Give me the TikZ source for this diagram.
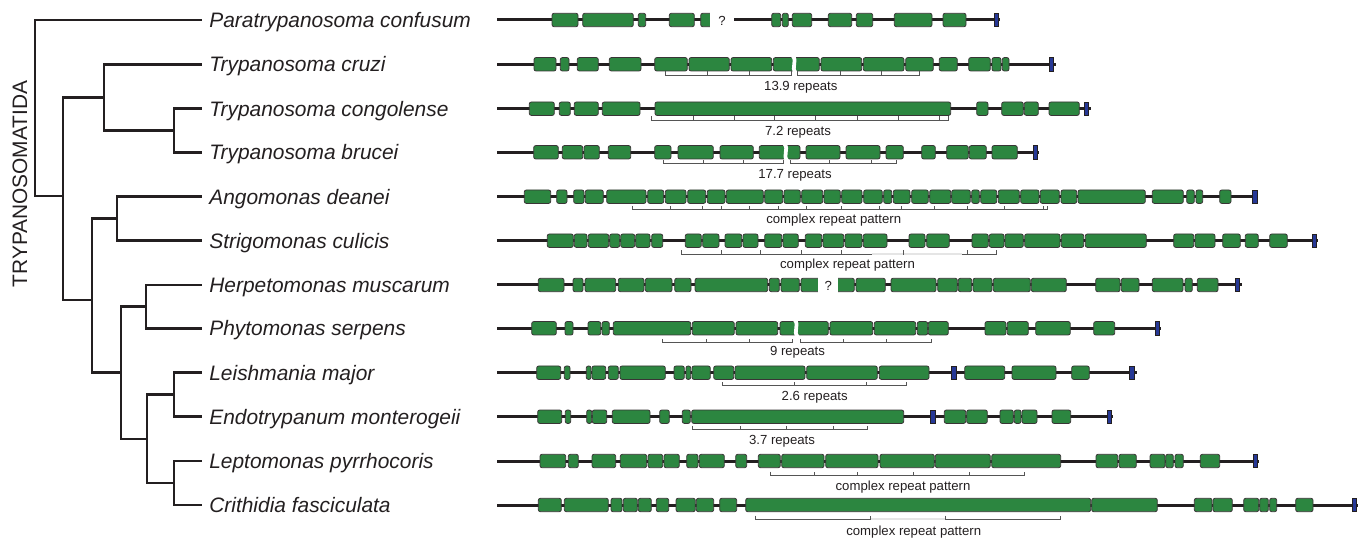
\documentclass[tikz,border=0pt]{standalone}
\usepackage{fontspec}
\setmainfont{Liberation Sans}
\usepackage{xcolor}
\usepackage{tikz}
\usetikzlibrary{positioning}

\definecolor{inkgray}{RGB}{35,31,32}
\definecolor{exongreen}{RGB}{44,134,64}
\definecolor{flagblue}{RGB}{38,56,150}
\definecolor{bargray}{RGB}{85,85,85}

\tikzset{
  branch/.style={draw=inkgray,line width=0.5mm},
  species/.style={inner sep=0pt,text height=11.1pt,text depth=2.5pt,font=\fontsize{11.9}{14}\selectfont\itshape,text=inkgray},
  clade/.style={inner sep=0pt,font=\fontsize{11.9}{14}\selectfont,text=inkgray,rotate=90},
  geneline/.style={draw=inkgray,line width=0.6mm},
  exon/.style={fill=exongreen,draw=inkgray!90,line width=0.45pt,rounded corners=0.4mm},
  flag/.style={fill=flagblue,draw=inkgray,line width=0.4pt},
  repbar/.style={draw=bargray,line width=0.5pt},
  fadebar/.style={draw=gray!20,line width=0.7pt},
  replabel/.style={inner sep=0pt,anchor=base,font=\fontsize{7.5}{9}\selectfont,text=inkgray},
  qmark/.style={inner sep=0pt,font=\fontsize{7.5}{9}\selectfont,text=inkgray},
  splicecut/.style={draw=white,line width=0.75mm}
}

% gene map helpers: row y, then data
\newcommand{\exons}[2]{\foreach \xa/\xb in {#2} {\draw[exon] (\xa,#1-6.7) rectangle (\xb,#1+6.7);}}
\newcommand{\flags}[2]{\foreach \xa in {#2} {\draw[flag] (\xa,#1-6.7) rectangle ++(4.5,13.4);}}
\newcommand{\splice}[2]{\draw[splicecut] (#2-1.5,#1-8.5) .. controls (#2+3.5,#1-3) and (#2-3.5,#1+3) .. (#2+1.5,#1+8.5);}
\newcommand{\repbar}[4]{\draw[repbar] (#2,#1-3.5) |- (#3,#1) -- (#3,#1-3.5);
  \foreach \xt in {#4} {\draw[repbar] (\xt,#1) -- (\xt,#1-3.5);}}

\begin{document}
\begin{tikzpicture}[x=0.2mm,y=-0.2mm]
    \useasboundingbox (0,0) rectangle (1370,538);

    % tree
    \foreach \y [count=\i from 0] in {20,64.3,108.7,152.3,196.7,240.7,285,328.3,372.7,416.7,461,505}
        \coordinate (t\i) at (202,\y);
    \coordinate (nR) at (35,108);
    \coordinate (nA) at (63,196);
    \coordinate (nB) at (104,97.4);
    \coordinate (nC) at (174,130.5);
    \coordinate (nD) at (92,300);
    \coordinate (nE) at (117,218.7);
    \coordinate (nF) at (121,372.75);
    \coordinate (nG) at (146,306.65);
    \coordinate (nH) at (147,438.85);
    \coordinate (nI) at (174,394.7);
    \coordinate (nJ) at (174,483);
    \foreach \p/\c in {nR/t0,nR/nA,nA/nB,nA/nD,nB/t1,nB/nC,nC/t2,nC/t3,nD/nE,nD/nF,nE/t4,nE/t5,
                       nF/nG,nF/nH,nG/t6,nG/t7,nH/nI,nH/nJ,nI/t8,nI/t9,nJ/t10,nJ/t11}
        \draw[branch] (\p) |- (\c);
    \foreach \i/\name in {0/Paratrypanosoma confusum,1/Trypanosoma cruzi,2/Trypanosoma congolense,
                          3/Trypanosoma brucei,4/Angomonas deanei,5/Strigomonas culicis,
                          6/Herpetomonas muscarum,7/Phytomonas serpens,8/Leishmania major,
                          9/Endotrypanum monterogeii,10/Leptomonas pyrrhocoris,11/Crithidia fasciculata}
        \node[species,right=1.4mm of t\i] (sp\i) {\name};
    \node[clade] (clade) at (20,184) {TRYPANOSOMATIDA};

    % Paratrypanosoma
    \draw[geneline] (497,20) -- (1000,20);
    \exons{20}{552/578,582.7/633.3,638.3/645.7,669.3/694.3,700.7/716,771.7/780.7,782.3/788.3,792.3/811.7,828.3/851.7,856.3/872.7,894.3/932,943/966}
    \flags{20}{994}
    \fill[white] (710,11.5) rectangle (734,28.5);
    \node[qmark] (q0) at (722,20.5) {?};

    % T. cruzi
    \draw[geneline] (497,64.3) -- (1055.7,64.3);
    \exons{64.3}{534/556,560.3/569,577.3/598.3,609.3/641,654.7/687.3,689/729.3,731/771.7,773.3/819.3,821/861.7,863.3/904,905.7/933.3,939.3/957.3,968.7/990.3,992/1001,1002.3/1009}
    \flags{64.3}{1049}
    \splice{64.3}{794.2}
    \repbar{75}{665.3}{791.7}{707.3,749.3}
    \repbar{75}{797.7}{919}{840,881.7}
    \node[replabel] (r1) at (800.8,91) {13.9 repeats};

    % T. congolense
    \draw[geneline] (497,108.7) -- (1091.3,108.7);
    \exons{108.7}{529.3/554.3,559.3/570.3,574.3/598.3,602.3/640,655/950.7,976.7/988,1001.7/1023.3,1024.3/1038.3,1049/1079.3}
    \flags{108.7}{1084.3}
    \repbar{120}{651.7}{948.3}{693.3,734,774.7,815.3,857.3,898.3,939.7}
    \node[replabel] (r2) at (798,135.7) {7.2 repeats};

    % T. brucei
    \draw[geneline] (497,152.3) -- (1039.3,152.3);
    \exons{152.3}{533.7/558.3,562.3/582.7,584/599.3,608.3/630.7,654.7/671,678/713.3,720/753.3,759.3/800,806/840,846/880,886/903.3,921.7/935.3,946.7/968.3,969.3/986.3,992/1017.3}
    \flags{152.3}{1033}
    \splice{152.3}{785.8}
    \repbar{163.3}{663.3}{783.3}{703.3,743.3}
    \repbar{163.3}{790}{896}{829.3,871}
    \node[replabel] (r3) at (795,179) {17.7 repeats};

    % A. deanei
    \draw[geneline] (497,196.7) -- (1258,196.7);
    \exons{196.7}{524.3/550.7,556.7/567,573.7/584,585.3/603.3,606.7/646,647.7/663.7,665.3/686,687.7/705.7,707.3/725,726.3/763.3,764.7/782.7,784/800.3,801.7/822.7,824/840.3,841.7/862,863.7/882.3,883.7/891.7,893.3/910,911.7/928.3,929.7/950.7,951.7/970.3,971.7/979.3,980.7/996.7,998.3/1019.3,1020.7/1039,1040.3/1059.3,1061/1076.7,1078/1145.3,1152.3/1183.3,1186.7/1194.3,1196/1202.7,1219.7/1231}
    \flags{196.7}{1252.7}
    \repbar{209.3}{632.7}{1047}{670.7,702.3,721.7,749.3,778.3,806,841,879,901,934.3,967.3,1004,1043.3}
    \node[replabel] (r4) at (833.7,223.5) {complex repeat pattern};

    % S. culicis
    \draw[geneline] (497,240.7) -- (1318.3,240.7);
    \exons{240.7}{547.3/573.3,574.3/587,588.3/608.7,609.7/619.7,620.7/634.7,635.7/650,651.7/662.7,685.3/701.3,702.7/719,725/741.7,743/758,764.7/781.7,783/798.3,805.3/821.7,823/843.7,845/862,863.3/887,909/925,926.7/949.3,972/988.3,989.3/1004,1005/1023.3,1024.7/1060,1061.3/1083.7,1085.3/1146.3,1173.7/1193.7,1195/1215,1222.7/1240.3,1245.3/1258.3,1269.7/1287.3}
    \flags{240.7}{1312.3}
    \repbar{254}{681}{996}{721,760.7,801,841.7,903.7,967.3}
    \draw[fadebar] (871.7,254) -- (903,254) (904.4,254) -- (961.7,254);
    \node[replabel] (r5) at (847.5,269) {complex repeat pattern};

    % H. muscarum
    \draw[geneline] (497,285) -- (1242.3,285);
    \exons{285}{538.3/564,573/583,585/615.7,618.3/644,645.3/672,674.7/691,695/767.7,769.3/779.3,781/799.3,801/822,834/854.3,856/885.3,891/936,937.7/957.3,958.3/971.7,973/992,993.3/1030.3,1031.3/1066.3,1095.7/1120,1121.3/1139,1152.3/1183,1185/1192.3,1197.3/1218}
    \flags{285}{1235.3}
    \fill[white] (817.7,276.5) rectangle (838.3,293.5);
    \node[qmark] (q6) at (828.3,285.5) {?};

    % P. serpens
    \draw[geneline] (497,328.3) -- (1161,328.3);
    \exons{328.3}{531.7/556.3,565/573,588/600.7,602/609.3,613.3/690.7,692.3/734.3,736/777.7,780/828.3,830/872.7,874.3/915.7,917.3/927.7,928.3/948.3,985/1006,1007.3/1028.3,1035.7/1070.3,1093.7/1114.7}
    \flags{328.3}{1155.3}
    \splice{328.3}{796.2}
    \repbar{342.3}{662.3}{792.7}{706,749.3}
    \repbar{342.3}{800.7}{931}{843.3,886.7}
    \node[replabel] (r7) at (797.5,356) {9 repeats};

    % L. major
    \draw[geneline] (497,372.7) -- (1136.7,372.7);
    \exons{372.7}{536.7/560.7,564.3/570,586.3/591,592/605.7,608.3/618.3,620/665.3,674/684.3,686/690.7,692/710.3,713.7/733.7,735/805,806.7/877.3,879.3/929,964.7/1004.7,1012/1056,1071.7/1089.3}
    \flags{372.7}{951.7,1129.7}
    \repbar{385.7}{722.3}{906.7}{794.7,866.7}
    \node[replabel] (r8) at (814.7,400) {2.6 repeats};

    % E. monterogeii
    \draw[geneline] (497,416.7) -- (1112.7,416.7);
    \exons{416.7}{537.7/561.7,565.3/570.7,586.7/591.7,592.3/606.7,612.3/650,659.7/669.3,682.3/690.3,691.7/903.7,944.3/965.7,966.7/987.3,1000/1013.3,1014.3/1021,1022/1037,1052/1070.7}
    \flags{416.7}{930.7,1107}
    \repbar{429.3}{692.7}{867.3}{740,786.7,833.7}
    \node[replabel] (r9) at (782,444) {3.7 repeats};

    % L. pyrrhocoris
    \draw[geneline] (497,461) -- (1259,461);
    \exons{461}{540/565.7,568.3/578.3,592/615.7,620.3/646.7,648/662.7,664/679.3,686.7/698,699.3/724.3,735.7/746.7,758.3/780.3,781.7/824,825.7/878,880/934.3,935.3/990.3,991.7/1060.7,1096/1117.7,1119/1136.3,1150/1165,1165.7/1173.3,1175/1183.3,1200.3/1219.7}
    \flags{461}{1253.3}
    \repbar{475}{770}{1024}{814.3,857.7,913.3,969.3}
    \node[replabel] (r10) at (903,490.5) {complex repeat pattern};

    % C. fasciculata
    \draw[geneline] (497,505) -- (1358.3,505);
    \exons{505}{538.3/561.3,564.3/608.3,611/622,623.3/637.3,638.3/651.3,656.3/668.7,676/695.3,696.3/713.7,719.7/736.7,745.7/1090.7,1091.7/1157.3,1194.3/1212,1213/1232.3,1243.7/1258.7,1259.7/1268.3,1269.7/1276.7,1295.7/1313}
    \flags{505}{1352.3}
    \repbar{519}{755}{870.7}{755}
    \repbar{519}{945}{1060.7}{945}
    \draw[fadebar] (870.7,519) -- (945,519);
    \node[replabel] (r11) at (913.7,535) {complex repeat pattern};
\end{tikzpicture}
\end{document}
